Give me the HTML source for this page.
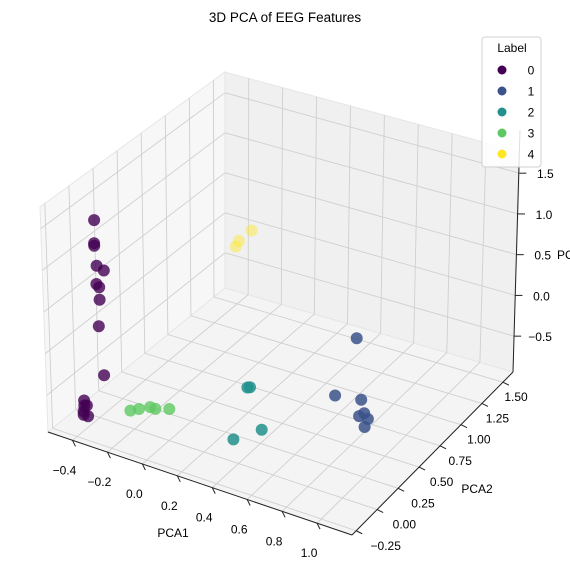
<!DOCTYPE html>
<html><head><meta charset="utf-8"><style>
body{margin:0;background:#fff;}
svg{font-family:"Liberation Sans","DejaVu Sans",sans-serif;}
</style></head><body>
<svg id="chart" width="570" height="579" viewBox="0 0 570 579" xmlns="http://www.w3.org/2000/svg">
<text x="285" y="22" text-anchor="middle" font-size="13.5">3D PCA of EEG Features</text>
<g id="panes"></g>
<g id="grid"></g>
<g id="axes"></g>
<g id="points"></g>
<text x="173" y="537" text-anchor="middle" font-size="12">PCA1</text>
<text x="477" y="493" text-anchor="middle" font-size="12">PCA2</text>
<text x="557" y="259" font-size="12">PCA3</text>
<g>
<rect x="482" y="37" width="59" height="130" rx="3" fill="#fff" fill-opacity="0.85" stroke="#d0d0d0"/>
<text x="512" y="52" text-anchor="middle" font-size="12">Label</text>
<g id="legend-entries"></g>
</g>
</svg>
<script>
// data
const classLabels = ["0","1","2","3","4"];
const classColors = ["#440154","#3b528b","#21918c","#5ec962","#fde725"];
const classAlpha = [0.8,0.85,0.85,0.8,0.45];
const pcaX = [-0.38,-0.38,-0.38,-0.38,-0.38,-0.38,-0.38,-0.38,-0.38,-0.38,-0.38,-0.38,-0.38,-0.38,-0.38,-0.38,
  -0.19,-0.16,-0.12,-0.09,-0.03,
  0.25,0.26,0.41,0.49,
  0.51,0.66,0.79,0.85,0.90,0.92,0.86,
  0.04,0.03,0.04];
const pcaY = [0.0,-0.01,-0.01,0.01,0.09,0.0,0.03,0.03,0.01,0.05,-0.19,-0.19,-0.16,-0.2,-0.2,-0.15,
  -0.04,0.0,0.05,0.05,0.09,
  0.44,0.45,-0.06,0.11,
  1.2,0.63,0.67,0.52,0.52,0.44,0.56,
  0.97,0.84,0.78];
const pcaZ = [1.42,1.15,1.12,0.86,0.72,0.65,0.58,0.43,0.13,-0.50,-0.56,-0.62,-0.65,-0.68,-0.72,-0.79,
  -0.7,-0.7,-0.7,-0.7,-0.7,
  -0.6,-0.6,-0.6,-0.6,
  -0.6,-0.6,-0.6,-0.6,-0.6,-0.6,-0.6,
  0.6,0.6,0.6];
const pointLabel = [0,0,0,0,0,0,0,0,0,0,0,0,0,0,0,0,3,3,3,3,3,2,2,2,2,1,1,1,1,1,1,1,4,4,4];
const xTicks = [-0.4,-0.2,0.0,0.2,0.4,0.6,0.8,1.0];
const xTickLabels = ["\u22120.4","\u22120.2","0.0","0.2","0.4","0.6","0.8","1.0"];
const yTicks = [-0.25,0,0.25,0.5,0.75,1.0,1.25,1.5];
const yTickLabels = ["\u22120.25","0.00","0.25","0.50","0.75","1.00","1.25","1.50"];
const zTicks = [-0.5,0,0.5,1.0,1.5];
const zTickLabels = ["\u22120.5","0.0","0.5","1.0","1.5"];

const NS="http://www.w3.org/2000/svg";
const xmin=-0.54,xr=1.74,ymin=-0.3,yr=1.92,zmin=-0.94,zr=2.7;
const A=[48,432],B=[352,535],C=[513,372],D=[225,288],A2=[40,207],D2=[225,72],C2=[520,152];
function lerp(p,q,t){return [p[0]+(q[0]-p[0])*t,p[1]+(q[1]-p[1])*t];}
function bil(p00,p10,p01,p11,s,t){return lerp(lerp(p00,p10,s),lerp(p01,p11,s),t);}
const U=x=>(x-xmin)/xr, V=y=>(y-ymin)/yr, W=z=>(z-zmin)/zr;
function floor(x,y){return bil(A,B,D,C,U(x),V(y));}
function leftWall(y,z){return bil(A,D,A2,D2,V(y),W(z));}
function backWall(x,z){return bil(D,C,D2,C2,U(x),W(z));}
function proj(x,y,z){return [48+(x-xmin)*175+(y-ymin)*84+(z-zmin)*-3, 432+(x-xmin)*59+(y-ymin)*-85+(z-zmin)*-83];}
function mk(tag,attrs,parent){const e=document.createElementNS(NS,tag);for(const k in attrs)e.setAttribute(k,attrs[k]);parent.appendChild(e);return e;}
function poly(pts){return pts.map(p=>p[0].toFixed(1)+","+p[1].toFixed(1)).join(" ");}
const panes=document.getElementById('panes'),grid=document.getElementById('grid'),axes=document.getElementById('axes'),pts=document.getElementById('points');
let e;
e=mk('polygon',{points:poly([A,D,D2,A2]),fill:'#f7f7f7',stroke:'#e6e6e6'},panes);


e=mk('polygon',{points:poly([D,C,C2,D2]),fill:'#f0f0f0',stroke:'#e6e6e6'},panes);


e=mk('polygon',{points:poly([A,B,C,D]),fill:'#f4f4f4',stroke:'#e6e6e6'},panes);


function gl(p,q){const l=mk('line',{x1:p[0],y1:p[1],x2:q[0],y2:q[1],stroke:'#cfcfcf','stroke-width':0.9},grid);

}
const xmax=xmin+xr,ymax=ymin+yr,zmax=zmin+zr;
xTicks.forEach(x=>{gl(floor(x,ymin),floor(x,ymax));gl(backWall(x,zmin),backWall(x,zmax));});
yTicks.forEach(y=>{gl(floor(xmin,y),floor(xmax,y));gl(leftWall(y,zmin),leftWall(y,zmax));});
zTicks.forEach(z=>{gl(leftWall(ymin,z),leftWall(ymax,z));gl(backWall(xmin,z),backWall(xmax,z));});
function al(p,q,name){const l=mk('line',{x1:p[0],y1:p[1],x2:q[0],y2:q[1],stroke:'#222','stroke-width':1},axes);

}
al(A,B,'x-axis-line');al(B,C,'y-axis-line');al(C,[520,130],'z-axis-line');
function txt(s,x,y,anchor,name){const t=mk('text',{x:x,y:y,'text-anchor':anchor,'font-size':12},axes);t.textContent=s;

}
xTicks.forEach((x,i)=>{const p=floor(x,ymin);al(p,[p[0]+3,p[1]+6],'x-tick');txt(xTickLabels[i],p[0]-8,p[1]+34,'middle','x-tick-label');});
yTicks.forEach((y,i)=>{const p=floor(xmax,y);const v=V(y);al(p,[p[0]+6,p[1]+3],'y-tick');txt(yTickLabels[i],p[0]+30-18*v,p[1]+19,'middle','y-tick-label');});
zTicks.forEach((z,i)=>{const w=W(z);const p=[513+7*w,372-220*w];al(p,[p[0]+7,p[1]],'z-tick');txt(zTickLabels[i],p[0]+26,p[1]+5,'middle','z-tick-label');});
const order=pcaX.map((_,i)=>i).sort((a,b)=>(V(pcaY[b])-U(pcaX[b]))-(V(pcaY[a])-U(pcaX[a])));
order.forEach(i=>{const p=proj(pcaX[i],pcaY[i],pcaZ[i]);const c=pointLabel[i];
const d=mk('circle',{cx:p[0].toFixed(1),cy:p[1].toFixed(1),r:6,fill:classColors[c],'fill-opacity':classAlpha[c]},pts);

});
const le=document.getElementById('legend-entries');
classLabels.forEach((l,i)=>{const y=70+i*21;
const c=mk('circle',{cx:502,cy:y,r:4.5,fill:classColors[i]},le);


const t=mk('text',{x:531,y:y+4.5,'text-anchor':'middle','font-size':12},le);t.textContent=l;

});
</script>
</body></html>
